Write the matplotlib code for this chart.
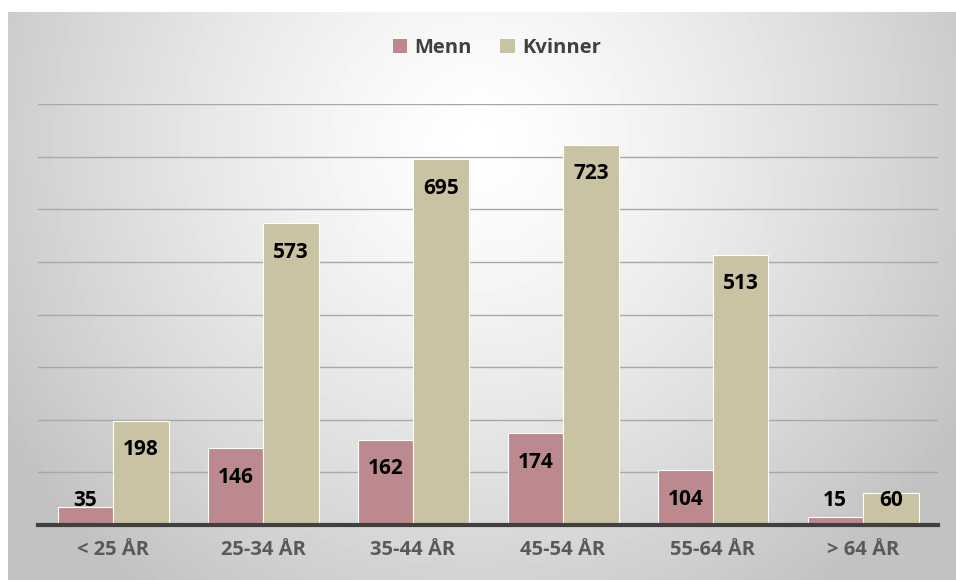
import numpy as np
from matplotlib import pyplot as plt
from matplotlib.patches import Patch

categories = ['< 25 ÅR', '25-34 ÅR', '35-44 ÅR', '45-54 ÅR', '55-64 ÅR', '> 64 ÅR']
menn = [35, 146, 162, 174, 104, 15]
kvinner = [198, 573, 695, 723, 513, 60]

plt.rcParams['font.family'] = ['Open Sans', 'DejaVu Sans']

fig = plt.figure(figsize=(9.56, 5.8), dpi=100)
W, H = 956, 580

# radial gradient background of the chart area
bg = fig.add_axes([8 / W, 0, (W - 8) / W, (H - 12) / H], zorder=0)
yy, xx = np.mgrid[0:568, 0:948]
cx, cy = 470, 130
r = np.sqrt(((xx - cx) / 560.0) ** 2 + ((yy - cy) / 560.0) ** 2)
r = np.clip(r, 0, 1)
shade = 1.0 - 0.24 * r ** 1.3
bg.imshow(shade, cmap='gray', vmin=0, vmax=1, aspect='auto', interpolation='bilinear')
bg.axis('off')

ax = fig.add_axes([38 / W, (H - 525) / H, 900 / W, 421 / H], zorder=1)
ax.patch.set_alpha(0)

x = np.arange(len(categories))
w = 0.37
c_menn = '#bc8a8e'
c_kv = '#c9c3a3'
ax.bar(x - w / 2, menn, w, color=c_menn, edgecolor='white', linewidth=0.8, zorder=3)
ax.bar(x + w / 2, kvinner, w, color=c_kv, edgecolor='white', linewidth=0.8, zorder=3)

for xs, vals in ((x - w / 2, menn), (x + w / 2, kvinner)):
    for xi, v in zip(xs, vals):
        ax.text(xi, max(v - 55, 46), str(v), ha='center', va='center',
                fontsize=15, fontweight='bold', color='black', zorder=4)

ax.set_xlim(-0.5, len(categories) - 0.5)
ax.set_ylim(0, 800)
ax.set_yticks(np.arange(0, 801, 100))
ax.yaxis.grid(True, color='#a8a8a8', linewidth=1, zorder=0)
ax.tick_params(axis='y', left=False, labelleft=False)
ax.set_xticks(x)
ax.set_xticklabels(categories, fontsize=14.5, fontweight='bold', color='#595959')
ax.tick_params(axis='x', length=0, pad=11)
for s in ['top', 'right', 'left']:
    ax.spines[s].set_visible(False)
ax.spines['bottom'].set_color('#404040')
ax.spines['bottom'].set_linewidth(3)
ax.spines['bottom'].set_zorder(5)

handles = [Patch(facecolor=c_menn, label='Menn'), Patch(facecolor=c_kv, label='Kvinner')]
fig.legend(handles=handles, loc='center', bbox_to_anchor=(497 / W, 1 - 48 / H), ncol=2,
           frameon=False, prop={'size': 14.5, 'weight': 'bold'}, labelcolor='#404040',
           handlelength=0.7, handleheight=0.7, handletextpad=0.4, columnspacing=1.4)

fig.savefig('out.png', dpi=100)
